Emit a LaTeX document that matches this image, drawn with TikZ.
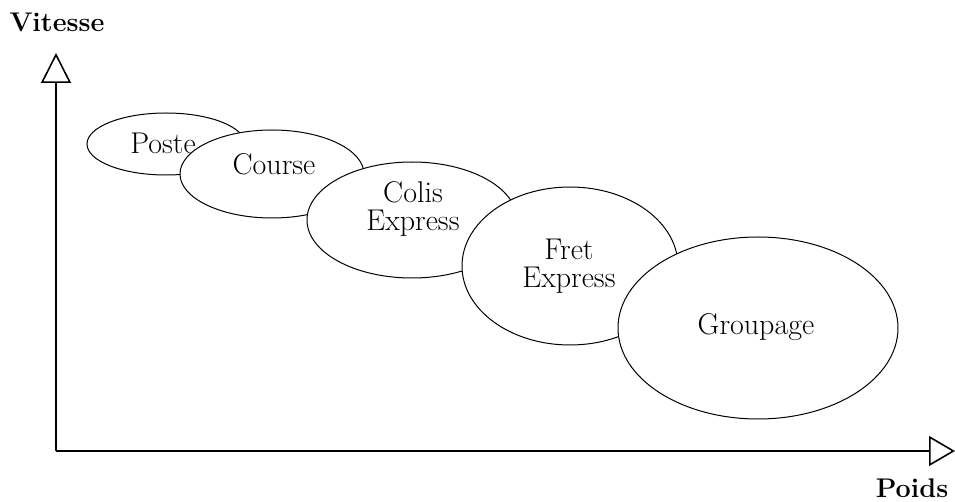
\documentclass[tikz,border=0pt]{standalone}
\usepackage{amsmath,amssymb}
\usepackage{tikz}
\usetikzlibrary{shapes,arrows.meta,positioning,calc}

\begin{document}
\begin{tikzpicture}[x=0.5pt, y=-0.5pt,
    blob/.style={ellipse, draw, fill=white, line width=0.5pt, inner sep=0pt},
    lbl/.style={font=\fontsize{15}{17}\selectfont, align=center},
    axlbl/.style={font=\fontsize{13.5}{15}\selectfont\bfseries, inner sep=1pt},
    axis/.style={line width=0.8pt, -{Triangle[open, length=15pt, width=15pt]}}]
      \useasboundingbox (0,0) rectangle (955,502);
      % axes
      \coordinate (o) at (56,451);
      \coordinate (ytop) at (56,53);
      \coordinate (xend) at (955,451);
      \draw [axis] (o) -- (ytop);
      \draw [axis, -{Triangle[open, length=13pt, width=15pt]}] (o) -- (xend);
      \node[axlbl] (vit) at (57,22) {Vitesse};
      \node[axlbl] (poids) at (912,488) {Poids};
      % ellipse node set with absolute coordinates
      \node[blob, minimum width=79pt, minimum height=31pt] (poste) at (166,144) {};
      \node[lbl] (tposte) at (163,143) {Poste};
      \node[blob, minimum width=92pt, minimum height=44pt] (course) at (272,174) {};
      \node[lbl] (tcourse) at (274,164) {Course};
      \node[blob, minimum width=105pt, minimum height=58pt] (colis) at (412,220) {};
      \node[lbl] (tcolis) at (413,209) {Colis\\[-3pt]Express};
      \node[blob, minimum width=108pt, minimum height=79pt] (fret) at (570,266) {};
      \node[lbl] (tfret) at (569,266) {Fret\\[-3pt]Express};
      \node[blob, minimum width=140pt, minimum height=91pt] (group) at (758,328) {};
      \node[lbl] (tgroup) at (756,327) {Groupage};
    \end{tikzpicture}
\end{document}
